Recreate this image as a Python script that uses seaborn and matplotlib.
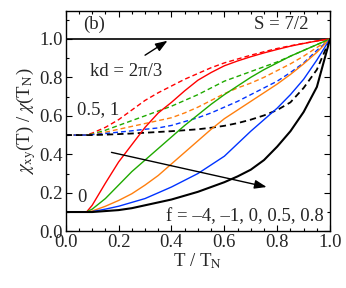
import numpy as np
import pandas as pd
import matplotlib
matplotlib.use("Agg")
import matplotlib.pyplot as plt
import seaborn as sns
from matplotlib.ticker import MultipleLocator

# ---- data ----
t = [0, 0.05, 0.08, 0.1, 0.15, 0.2, 0.25, 0.3, 0.35, 0.4, 0.45, 0.5, 0.55, 0.6, 0.65,
     0.7, 0.75, 0.8, 0.85, 0.9, 0.95, 1.0]

# solid curves (start at 0.1), f = -4, -1, 0, 0.5, 0.8
solid_fm4 = [0.1, 0.1, 0.102, 0.135, 0.25, 0.36, 0.45, 0.54, 0.615, 0.67, 0.73, 0.785, 0.825,
             0.86, 0.885, 0.907, 0.927, 0.945, 0.962, 0.976, 0.989, 1.0]
solid_fm1 = [0.1, 0.1, 0.101, 0.115, 0.17, 0.24, 0.31, 0.37, 0.43, 0.49, 0.55, 0.605, 0.66,
             0.71, 0.755, 0.80, 0.84, 0.875, 0.91, 0.94, 0.97, 1.0]
solid_f0 = [0.1, 0.1, 0.1, 0.105, 0.13, 0.16, 0.195, 0.24, 0.29, 0.35, 0.41, 0.47, 0.53,
            0.585, 0.63, 0.675, 0.72, 0.765, 0.815, 0.87, 0.93, 1.0]
solid_f05 = [0.1, 0.1, 0.1, 0.102, 0.115, 0.13, 0.15, 0.17, 0.2, 0.23, 0.265, 0.30, 0.345,
             0.39, 0.455, 0.52, 0.58, 0.64, 0.71, 0.79, 0.89, 1.0]
solid_f08 = [0.1, 0.1, 0.1, 0.1, 0.105, 0.11, 0.12, 0.135, 0.15, 0.165, 0.185, 0.205, 0.23,
             0.255, 0.285, 0.32, 0.37, 0.44, 0.52, 0.62, 0.75, 1.0]

# dashed curves (start at 0.5)
dash_fm4 = [0.5, 0.5, 0.502, 0.51, 0.54, 0.58, 0.63, 0.68, 0.72, 0.755, 0.79, 0.82, 0.85,
            0.875, 0.895, 0.915, 0.933, 0.95, 0.964, 0.977, 0.989, 1.0]
dash_fm1 = [0.5, 0.5, 0.501, 0.505, 0.525, 0.55, 0.575, 0.60, 0.625, 0.65, 0.68, 0.71, 0.745,
            0.78, 0.805, 0.83, 0.855, 0.88, 0.91, 0.94, 0.97, 1.0]
dash_f0 = [0.5, 0.5, 0.5, 0.503, 0.515, 0.53, 0.545, 0.56, 0.575, 0.59, 0.615, 0.645, 0.68,
           0.715, 0.745, 0.77, 0.80, 0.835, 0.87, 0.91, 0.955, 1.0]
dash_f05 = [0.5, 0.5, 0.5, 0.502, 0.508, 0.515, 0.522, 0.53, 0.537, 0.55, 0.57, 0.59, 0.615,
            0.645, 0.675, 0.71, 0.745, 0.78, 0.825, 0.875, 0.94, 1.0]
dash_f08 = [0.5, 0.5, 0.5, 0.5, 0.502, 0.505, 0.508, 0.512, 0.516, 0.52, 0.525, 0.53, 0.538,
            0.548, 0.562, 0.58, 0.602, 0.63, 0.67, 0.745, 0.84, 1.0]

ref_x = [0.0, 1.0]
ref_y = [1.0, 1.0]

colors = ["#ff0000", "#1faa00", "#ff7f0e", "#0033ff", "#000000"]
solid = [solid_fm4, solid_fm1, solid_f0, solid_f05, solid_f08]
dashed = [dash_fm4, dash_fm1, dash_f0, dash_f05, dash_f08]

# ---- style ----
sns.set_theme(style="ticks")
plt.rcParams["font.family"] = ["Liberation Serif", "DejaVu Serif"]
plt.rcParams["mathtext.fontset"] = "stix"
FS = 13.5

fig = plt.figure(figsize=(3.46, 2.88), dpi=100)
ax = fig.add_axes([0.19, 0.197, 0.764, 0.765])

sns.lineplot(x=ref_x, y=ref_y, ax=ax, color="black", lw=1.2, estimator=None, sort=False)
for c, ys in zip(colors, dashed):
    lw = 1.3 if c == "#000000" else 1.0
    sns.lineplot(x=t, y=ys, ax=ax, color=c, lw=lw, estimator=None, sort=False,
                 dashes=False, linestyle=(0, (3.5, 2.2)))
for c, ys in zip(colors, solid):
    lw = 1.5 if c == "#000000" else 1.0
    sns.lineplot(x=t, y=ys, ax=ax, color=c, lw=lw, estimator=None, sort=False)

ax.set_xlim(0, 1.0)
ax.set_ylim(0, 1.145)
ax.xaxis.set_minor_locator(MultipleLocator(0.05))
ax.yaxis.set_minor_locator(MultipleLocator(0.1))
ax.set_xticks([0, 0.2, 0.4, 0.6, 0.8, 1.0])
ax.set_xticklabels(["0.0", "0.2", "0.4", "0.6", "0.8", "1.0"])
ax.set_yticks([0, 0.2, 0.4, 0.6, 0.8, 1.0])
ax.set_yticklabels(["0.0", "0.2", "0.4", "0.6", "0.8", "1.0"])
ax.tick_params(which="both", direction="in", top=True, right=True, labelsize=FS,
               color="black", width=0.8)
ax.tick_params(axis="x", pad=2)
ax.tick_params(axis="y", pad=2)
ax.tick_params(which="major", length=4)
ax.tick_params(which="minor", length=2.5)
for s in ax.spines.values():
    s.set_linewidth(1.0)
    s.set_color("black")

ax.set_xlabel("T / T$_\\mathrm{N}$", fontsize=FS, labelpad=0)
ax.set_ylabel("$\\chi_\\mathrm{xy}$(T) / $\\chi$(T$_\\mathrm{N}$)", fontsize=FS, labelpad=1)

ax.text(0.065, 1.075, "(b)", fontsize=FS, va="center", ha="left")
ax.text(0.92, 1.075, "S = 7/2", fontsize=FS, va="center", ha="right")
ax.text(0.09, 0.83, "kd = 2\u03c0/3", fontsize=FS, va="center", ha="left")
ax.text(0.042, 0.63, "0.5, 1", fontsize=FS, va="center", ha="left")
ax.text(0.063, 0.177, "0", fontsize=FS, va="center", ha="center")
ax.text(0.975, 0.077, "f = \u20134, \u20131, 0, 0.5, 0.8", fontsize=FS, va="center", ha="right")

astyle = "-|>,head_length=0.6,head_width=0.22"
ax.annotate("", xy=(0.385, 0.99), xytext=(0.30, 0.915),
            arrowprops=dict(arrowstyle=astyle, color="black", lw=1.0,
                            mutation_scale=12, shrinkA=0, shrinkB=0))
ax.annotate("", xy=(0.76, 0.23), xytext=(0.173, 0.41),
            arrowprops=dict(arrowstyle=astyle, color="black", lw=1.0,
                            mutation_scale=12, shrinkA=0, shrinkB=0))

fig.savefig("out.png", dpi=100)
